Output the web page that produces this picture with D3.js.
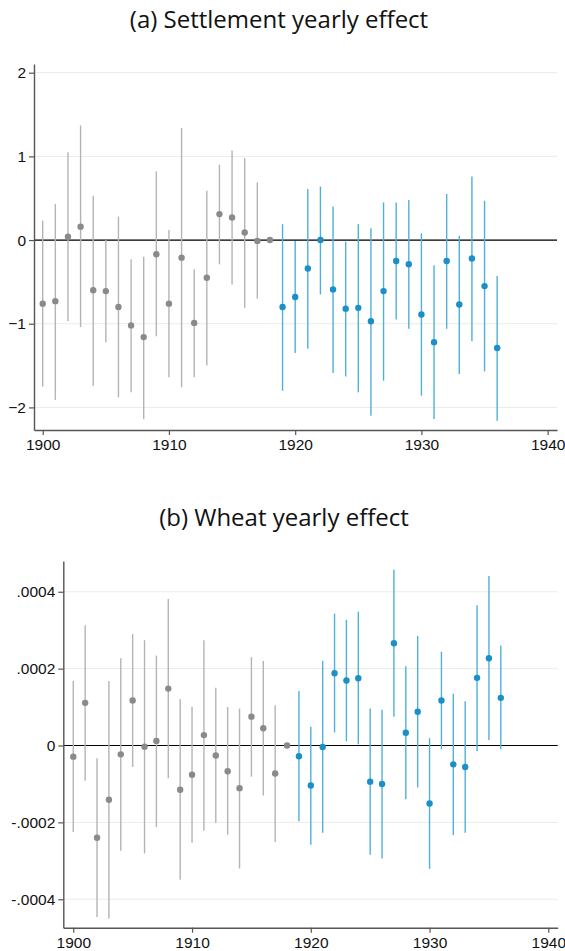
<!DOCTYPE html>
<html>
<head>
<meta charset="utf-8">
<script src="https://cdn.jsdelivr.net/npm/d3@7"></script>
<style>
  body { margin: 0; background: #fff; }
  svg { display: block; }
  .title { font-family: "Open Sans", "DejaVu Sans", sans-serif; font-size: 24px; fill: #111; }
</style>
</head>
<body>
<svg id="chart" width="565" height="951"></svg>
<script>
// years 1900-1936, 1918 is the reference year (no interval)
const years = [1900,1901,1902,1903,1904,1905,1906,1907,1908,1909,1910,1911,1912,1913,1914,1915,1916,1917,1918,
               1919,1920,1921,1922,1923,1924,1925,1926,1927,1928,1929,1930,1931,1932,1933,1934,1935,1936];

// (a) settlement
const settleEst = [-0.76,-0.73,0.04,0.16,-0.60,-0.61,-0.80,-1.02,-1.16,-0.17,-0.76,-0.21,-0.99,-0.45,0.31,0.27,0.09,-0.01,0.0,
                   -0.80,-0.68,-0.34,0.0,-0.59,-0.82,-0.81,-0.97,-0.61,-0.25,-0.29,-0.89,-1.22,-0.25,-0.77,-0.22,-0.55,-1.29];
const settleLo  = [-1.75,-1.91,-0.97,-1.04,-1.74,-1.22,-1.88,-1.82,-2.14,-1.15,-1.64,-1.76,-1.64,-1.50,-0.29,-0.53,-0.81,-0.70,null,
                   -1.80,-1.35,-1.30,-0.65,-1.59,-1.63,-1.82,-2.10,-1.68,-0.95,-1.06,-1.86,-2.14,-1.06,-1.60,-1.21,-1.57,-2.16];
const settleHi  = [0.23,0.43,1.05,1.37,0.53,0.0,0.28,-0.23,-0.20,0.82,0.12,1.34,-0.35,0.59,0.90,1.07,0.98,0.69,null,
                   0.19,-0.01,0.61,0.64,0.40,-0.02,0.19,0.14,0.45,0.45,0.48,0.08,-0.30,0.55,0.05,0.76,0.47,-0.43];

// (b) wheat
const wheatEst = [-0.000029,0.000111,-0.000240,-0.000141,-0.000023,0.000117,-0.000003,0.000012,0.000148,-0.000115,-0.000076,
                  0.000027,-0.000026,-0.000067,-0.000111,0.000075,0.000045,-0.000073,0.0,
                  -0.000028,-0.000104,-0.000004,0.000188,0.000169,0.000175,-0.000094,-0.000100,0.000266,0.000033,0.000088,
                  -0.000151,0.000117,-0.000049,-0.000056,0.000176,0.000227,0.000124];
const wheatLo  = [-0.000225,-0.000092,-0.000446,-0.000451,-0.000274,-0.000056,-0.000281,-0.000212,-0.000085,-0.000349,-0.000253,
                  -0.000222,-0.000201,-0.000232,-0.000320,-0.000081,-0.000130,-0.000251,null,
                  -0.000197,-0.000258,-0.000227,0.000034,0.000011,0.000003,-0.000284,-0.000294,0.000075,-0.000140,-0.000109,
                  -0.000321,-0.000010,-0.000233,-0.000227,-0.000014,0.000014,-0.000010];
const wheatHi  = [0.000168,0.000313,-0.000033,0.000168,0.000227,0.000290,0.000274,0.000234,0.000381,0.000121,0.000101,
                  0.000274,0.000150,0.000100,0.000096,0.000230,0.000220,0.000105,null,
                  0.000142,0.000049,0.000220,0.000343,0.000327,0.000348,0.000096,0.000093,0.000457,0.000206,0.000285,
                  0.000019,0.000244,0.000135,0.000115,0.000365,0.000441,0.000260];

const settleTicks = [-2, -1, 0, 1, 2];
const wheatTicks = [-0.0004, -0.0002, 0, 0.0002, 0.0004];
const wheatTickLabels = ["-.0004", "-.0002", "0", ".0002", ".0004"];
const xTicks = [1900, 1910, 1920, 1930, 1940];

const svg = d3.select("#chart");
const gray = "#8a8a8a", grayLine = "#b4b4b4";
const blue = "#1b8fc6", blueLine = "#4fb0dc";

function drawPanel(opt) {
    let x = d3.scaleLinear().domain(opt.xDomain).range([opt.left, opt.right]);
    let y = d3.scaleLinear().domain(opt.yDomain).range([opt.bottom, opt.top]);
    let g = svg.append("g");

    // gridlines
    g.selectAll(".grid").data(opt.yTicks).enter().append("line")
        .attr("x1", opt.left).attr("x2", opt.right)
        .attr("y1", d => y(d)).attr("y2", d => y(d))
        .attr("stroke", "#ebebeb").attr("stroke-width", 1);

    // zero line
    g.append("line")
        .attr("x1", opt.left).attr("x2", opt.right)
        .attr("y1", y(0)).attr("y2", y(0))
        .attr("stroke", "#000").attr("stroke-width", 1.2);

    let data = years.map((yr, i) => ({yr: yr, est: opt.est[i], lo: opt.lo[i], hi: opt.hi[i]}));

    // confidence intervals
    g.selectAll(".ci").data(data.filter(d => d.lo !== null)).enter().append("line")
        .attr("x1", d => x(d.yr)).attr("x2", d => x(d.yr))
        .attr("y1", d => y(d.lo)).attr("y2", d => y(d.hi))
        .attr("stroke", d => d.yr <= 1918 ? grayLine : blueLine)
        .attr("stroke-width", 1.4);

    // point estimates
    g.selectAll(".pt").data(data).enter().append("circle")
        .attr("cx", d => x(d.yr)).attr("cy", d => y(d.est))
        .attr("r", 3.2)
        .attr("fill", d => d.yr <= 1918 ? gray : blue);

    // axes
    let yAxis = d3.axisLeft(y).tickValues(opt.yTicks).tickSize(5).tickPadding(3).tickSizeOuter(0);
    if (opt.yLabels) yAxis.tickFormat((d, i) => opt.yLabels[i]);
    else yAxis.tickFormat(d3.format("d"));
    let ya = g.append("g").attr("transform", `translate(${opt.left},0)`).call(yAxis);

    let xAxis = d3.axisBottom(x).tickValues(xTicks).tickSize(5).tickPadding(4).tickSizeOuter(0).tickFormat(d3.format("d"));
    let xa = g.append("g").attr("transform", `translate(0,${opt.bottom})`).call(xAxis);

    [ya, xa].forEach(a => {
        a.selectAll(".tick text")
            .style("font-family", "'Liberation Sans', Arial, Helvetica, sans-serif")
            .style("font-size", "15.5px")
            .style("fill", "#111");
        a.select(".domain").attr("stroke", "#555").attr("stroke-width", 1.4);
        a.selectAll(".tick line").attr("stroke", "#555").attr("stroke-width", 1.2);
    });

    svg.append("text").attr("class", "title")
        .attr("x", opt.titleX).attr("y", opt.titleY)
        .attr("text-anchor", "middle")
        .text(opt.title);
}

drawPanel({
    title: "(a) Settlement yearly effect", titleX: 279, titleY: 28,
    left: 34, right: 557, top: 64, bottom: 430,
    xDomain: [1899.31, 1940.74], yDomain: [-2.27, 2.104],
    yTicks: settleTicks,
    est: settleEst, lo: settleLo, hi: settleHi
});

drawPanel({
    title: "(b) Wheat yearly effect", titleX: 284, titleY: 526,
    left: 63.3, right: 557.7, top: 561, bottom: 927.7,
    xDomain: [1899.16, 1940.79], yDomain: [-0.000474, 0.00048],
    yTicks: wheatTicks, yLabels: wheatTickLabels,
    est: wheatEst, lo: wheatLo, hi: wheatHi
});
</script>
</body>
</html>
